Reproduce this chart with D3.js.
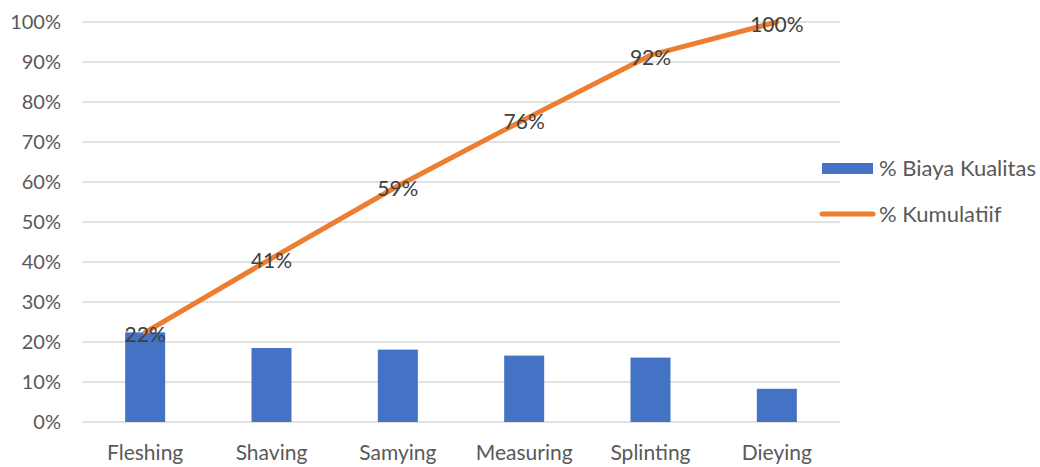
<!DOCTYPE html>
<html><head><meta charset="utf-8">
<script src="https://cdn.jsdelivr.net/npm/d3@7"></script>
<style>body{margin:0;background:#fff}svg{display:block}text{font-family:Lato,"Open Sans",sans-serif}</style>
</head><body>
<svg id="c" width="1040" height="467"></svg>
<script>
const categories = ["Fleshing","Shaving","Samying","Measuring","Splinting","Dieying"];
const biaya = [22.4, 18.5, 18.1, 16.6, 16.1, 8.3];
const kumulatif = [22.4, 40.9, 59.0, 75.6, 91.7, 100];
const cumLabels = ["22%","41%","59%","76%","92%","100%"];
const yTicks = [0,10,20,30,40,50,60,70,80,90,100];
const legendLabels = ["% Biaya Kualitas","% Kumulatiif"];

const svg = d3.select("#c");
const x = d3.scaleBand().domain(categories).range([82,840]).paddingInner(0).paddingOuter(0);
const y = d3.scaleLinear().domain([0,100]).range([422,22]);

// gridlines
svg.append("g").selectAll("line").data(yTicks).join("line")
  .attr("x1",82).attr("x2",840).attr("y1",d=>y(d)).attr("y2",d=>y(d))
  .attr("stroke","#d9d9d9").attr("stroke-width",1.5);

// y tick labels
svg.append("g").selectAll("text").data(yTicks).join("text")
  .attr("x",61).attr("y",d=>y(d)).attr("dy","0.36em").attr("text-anchor","end")
  .attr("font-size",20).attr("fill","#595959").text(d=>d+"%");

// x labels
svg.append("g").selectAll("text").data(categories).join("text")
  .attr("x",d=>x(d)+x.bandwidth()/2).attr("y",460).attr("text-anchor","middle")
  .attr("font-size",21).attr("fill","#595959").text(d=>d);

// bars
const bw = 40;
svg.append("g").selectAll("rect").data(biaya).join("rect")
  .attr("x",(d,i)=>x(categories[i])+x.bandwidth()/2-bw/2).attr("width",bw)
  .attr("y",d=>y(d)).attr("height",d=>y(0)-y(d)).attr("fill","#4472C4");

// line
const line = d3.line().x((d,i)=>x(categories[i])+x.bandwidth()/2).y(d=>y(d));
svg.append("path").datum(kumulatif).attr("d",line).attr("fill","none")
  .attr("stroke","#ED7D31").attr("stroke-width",5).attr("stroke-linecap","round").attr("stroke-linejoin","round");

// data labels
svg.append("g").selectAll("text").data(kumulatif).join("text")
  .attr("x",(d,i)=>x(categories[i])+x.bandwidth()/2).attr("y",d=>y(d)+2).attr("dy","0.36em")
  .attr("text-anchor","middle").attr("font-size",21).attr("fill","#404040").text((d,i)=>cumLabels[i]);

// legend
const lg = svg.append("g");
lg.append("rect").attr("x",822).attr("y",163).attr("width",51).attr("height",11).attr("fill","#4472C4");
lg.append("line").attr("x1",822).attr("x2",873).attr("y1",214).attr("y2",214)
  .attr("stroke","#ED7D31").attr("stroke-width",5).attr("stroke-linecap","round");
lg.selectAll("text.l").data(legendLabels).join("text").attr("class","l")
  .attr("x",879).attr("y",(d,i)=>168.5+i*45.5).attr("dy","0.36em")
  .attr("font-size",22).attr("fill","#595959").text(d=>d);
</script>
</body></html>
